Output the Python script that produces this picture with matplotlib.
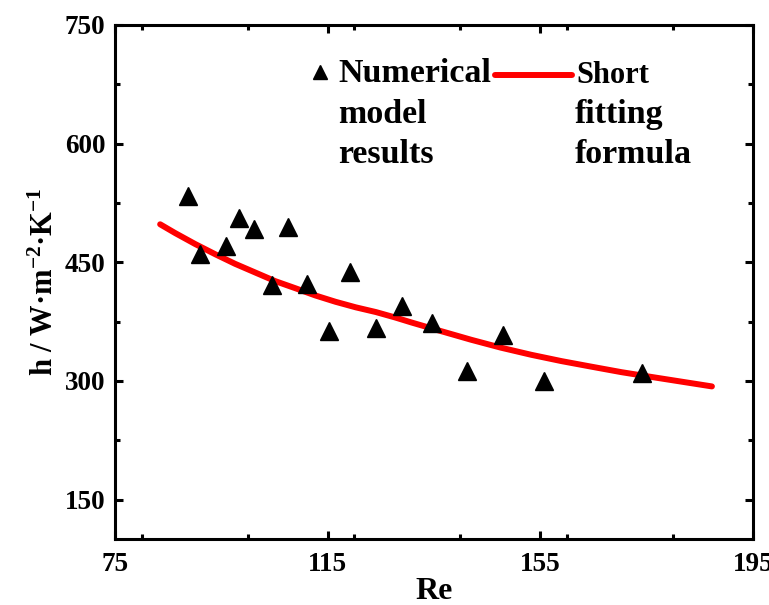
import matplotlib
matplotlib.use("Agg")
import matplotlib.pyplot as plt
from matplotlib.ticker import MultipleLocator


# Numerical model results
re_points = [88.8, 91.0, 95.8, 98.4, 101.2, 104.6, 107.6, 111.2, 115.2,
             119.2, 124.1, 129.0, 134.6, 141.2, 148.0, 155.8, 174.2]
h_points = [534, 461, 471, 506, 492, 421, 494, 423, 363,
            438, 367, 395, 373, 312, 358, 300, 310]

# Short fitting formula curve
re_fit = [83.5, 86.3, 90.1, 93.9, 97.6, 101.4, 105.2, 109.0, 112.7, 116.5,
          120.3, 124.1, 127.8, 130.7, 136.3, 142.0, 147.6, 153.3, 159.0,
          164.6, 170.3, 175.9, 181.6, 187.3]
h_fit = [498, 487, 473, 460, 448, 437, 426, 417, 408, 400,
         393, 387, 380, 374, 363, 352, 342, 333, 325,
         318, 311, 305, 299, 293]

x_ticks = [75, 115, 155, 195]
y_ticks = [150, 300, 450, 600, 750]

plt.rcParams["font.family"] = ["Liberation Serif", "DejaVu Serif"]
plt.rcParams["font.weight"] = "bold"
plt.rcParams["mathtext.fontset"] = "custom"
plt.rcParams["mathtext.rm"] = "Liberation Serif:bold"
plt.rcParams["mathtext.it"] = "Liberation Serif:italic:bold"
plt.rcParams["mathtext.bf"] = "Liberation Serif:bold"
plt.rcParams["mathtext.default"] = "rm"

fig = plt.figure(figsize=(7.69, 6.05), dpi=100)
ax = fig.add_axes([0.1495, 0.109, 0.8295, 0.8497])

ax.plot(re_fit, h_fit, color="#ff0000", linewidth=4.3,
        solid_capstyle="round", solid_joinstyle="round", zorder=2)
ax.plot(re_points, h_points, linestyle="none", marker="^",
        markersize=13, color="black", zorder=3)

ax.set_xlim(75, 195)
ax.set_ylim(100, 750)
ax.set_xticks(x_ticks)
ax.set_yticks(y_ticks)
ax.xaxis.set_minor_locator(MultipleLocator(20))
ax.yaxis.set_minor_locator(MultipleLocator(75))

for side in ax.spines.values():
    side.set_linewidth(2.2)

ax.tick_params(which="both", direction="in", top=True, right=True, width=2.2)
ax.tick_params(which="major", length=6)
ax.tick_params(which="minor", length=3.5)
ax.tick_params(axis="x", labelsize=19.5, pad=9)
ax.tick_params(axis="y", labelsize=19.5, pad=7)

ax.set_xlabel("Re", fontsize=23, fontweight="bold", labelpad=0)
ax.set_ylabel("h / W·m$^{-2}$·K$^{-1}$", fontsize=22, fontweight="bold", labelpad=3)

# legend drawn by hand to keep the original layout
ax.plot([0.321], [0.9086], marker="^", markersize=10, color="black",
        transform=ax.transAxes, clip_on=False)
for i, line in enumerate(["Numerical", "model", "results"]):
    ax.text(0.3495, 0.9047 - i * 0.078, line, transform=ax.transAxes,
            fontsize=24.5, fontweight="bold", va="center", ha="left")

ax.plot([0.5956, 0.7163], [0.9027, 0.9027], color="#ff0000", linewidth=4.3,
        solid_capstyle="round", transform=ax.transAxes, clip_on=False)
ax.text(0.724, 0.9027, "Short", transform=ax.transAxes,
        fontsize=22, fontweight="bold", va="center", ha="left")
for i, line in enumerate(["fitting", "formula"]):
    ax.text(0.721, 0.8268 - i * 0.078, line, transform=ax.transAxes,
            fontsize=24.5, fontweight="bold", va="center", ha="left")

plt.savefig("out.png", dpi=100)
